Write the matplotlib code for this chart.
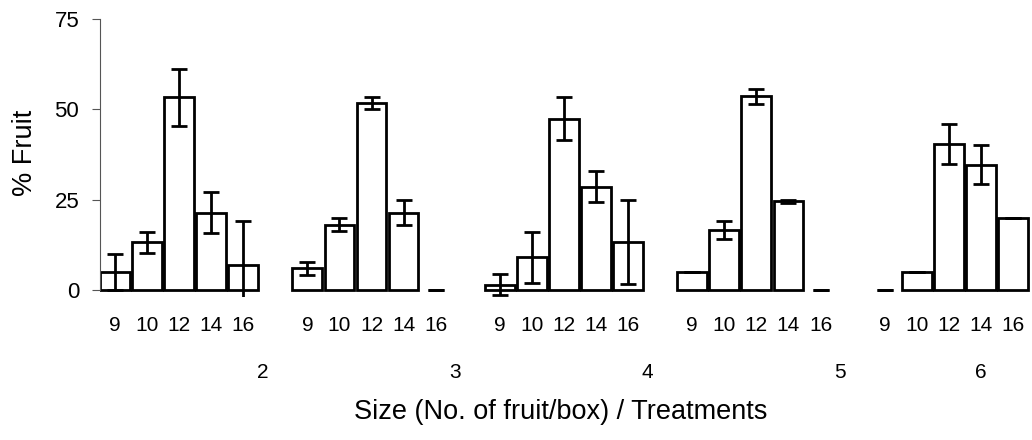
import matplotlib
matplotlib.use('agg')
import matplotlib.pyplot as plt
import matplotlib.transforms as mtransforms
import numpy as np

plt.rcParams['font.family'] = ['Liberation Sans', 'DejaVu Sans']

# Data
sizes = ['9', '10', '12', '14', '16']
treatments = ['2', '3', '4', '5', '6']

means_t2 = [5.0, 13.2, 53.3, 21.4, 6.9]
means_t3 = [6.0, 18.0, 51.7, 21.4, 0.0]
means_t4 = [1.5, 9.0, 47.4, 28.6, 13.3]
means_t5 = [4.9, 16.6, 53.6, 24.5, 0.0]
means_t6 = [0.0, 4.9, 40.3, 34.7, 19.9]

err_t2 = [5.0, 2.9, 7.8, 5.6, 12.2]
err_t3 = [1.8, 1.8, 1.6, 3.5, 0.0]
err_t4 = [3.0, 7.0, 6.0, 4.2, 11.6]
err_t5 = [0.0, 2.4, 2.1, 0.5, 0.0]
err_t6 = [0.0, 0.0, 5.5, 5.4, 0.0]

means = [means_t2, means_t3, means_t4, means_t5, means_t6]
errs = [err_t2, err_t3, err_t4, err_t5, err_t6]

# Layout: each treatment group takes 6 slots (5 bars + gap)
slot = 6
label_offsets = [4.6, 4.6, 4.6, 4.6, 3.0]

fig = plt.figure(figsize=(10.32, 4.4), dpi=100)
# plot area reaches a little below zero so error bars are clipped there
ax = fig.add_axes([100 / 1032, 143 / 440, 930 / 1032, 278 / 440])

xs, ys, es, labels = [], [], [], []
for g, (m, e) in enumerate(zip(means, errs)):
    for i, (v, err) in enumerate(zip(m, e)):
        xs.append(g * slot + i)
        ys.append(v)
        es.append(err)
        labels.append(sizes[i])

bars = ax.bar(xs, ys, width=0.93, color='white', edgecolor='black', linewidth=2)
for rect, v in zip(bars, ys):
    if v == 0:
        rect.set_linewidth(0)

ax.errorbar(xs, ys, yerr=es, fmt='none', ecolor='black', elinewidth=2,
            capsize=5.5, capthick=2)

ax.set_xlim(-0.465, 28.53)
ax.set_ylim(-1.95, 75)
ax.set_yticks([0, 25, 50, 75])
ax.set_xticks(xs)
ax.set_xticklabels(labels, fontsize=15)
ax.tick_params(axis='x', length=0, pad=14)
ax.tick_params(axis='y', length=6, width=0.8, color='#555555', pad=9, labelsize=16)

for side in ['top', 'right', 'bottom']:
    ax.spines[side].set_visible(False)
ax.spines['left'].set_color('#555555')
ax.spines['left'].set_linewidth(0.8)
ax.spines['left'].set_bounds(0, 75)

# Treatment labels below the size labels
trans = mtransforms.blended_transform_factory(ax.transData, fig.transFigure)
for g, t in enumerate(treatments):
    ax.text(g * slot + label_offsets[g], 68 / 440, t, transform=trans,
            ha='center', va='center', fontsize=15)

fig.text(0.543, 28 / 440, 'Size (No. of fruit/box) / Treatments',
         ha='center', va='center', fontsize=19.5)
fig.text(25 / 1032, (440 - 153) / 440, '% Fruit', rotation=90,
         ha='center', va='center', fontsize=19.5)

fig.savefig('out.png', dpi=100)
